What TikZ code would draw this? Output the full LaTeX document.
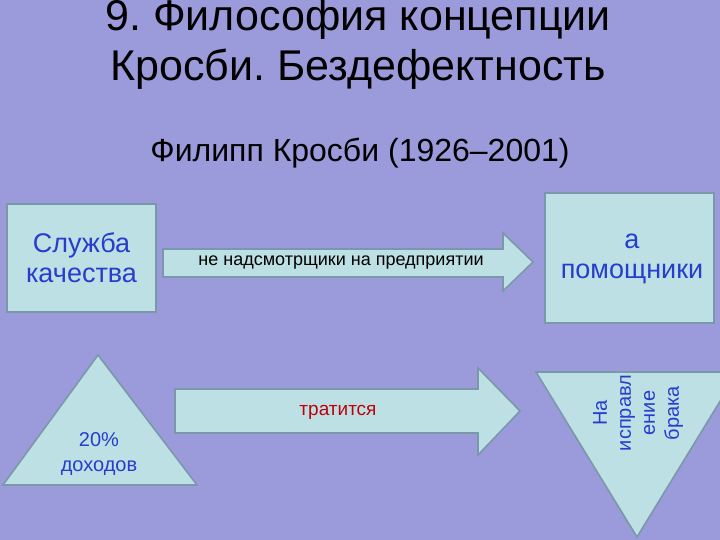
\documentclass[tikz,border=0pt]{standalone}
\usepackage{fontspec}
\setmainfont{Liberation Sans}
\frenchspacing
\definecolor{bgc}{RGB}{155,155,219}
\definecolor{fillc}{RGB}{189,224,228}
\definecolor{borderc}{RGB}{122,152,170}
\definecolor{bluetext}{RGB}{40,60,205}
\definecolor{redtext}{RGB}{190,0,10}
\tikzset{
  shapebox/.style={fill=fillc, draw=borderc, line width=1.6pt, line join=miter},
  bluelbl/.style={text=bluetext, align=center, inner sep=0pt},
}
\begin{document}
\begin{tikzpicture}[x=1pt,y=-1pt]
\useasboundingbox (0,0) rectangle (720,540);
\fill[bgc] (0,0) rectangle (720,540);
\begin{scope}
\clip (0,0) rectangle (720,540);
% title
\node[align=center, font=\fontsize{43}{50}\selectfont, inner sep=0pt] (title) at (358,44) {9. Философия концепции\\Кросби. Бездефектность};
\node[font=\fontsize{32}{38}\selectfont, inner sep=0pt] (sub) at (360,153) {Филипп Кросби (1926–2001)};
% box 1
\draw[shapebox] (7,204) rectangle (156,312);
\node[bluelbl, font=\fontsize{27}{30}\selectfont] (sluzhba) at (81.5,258) {Служба\\качества};
% arrow 1
\draw[shapebox] (163,249) -- (503,249) -- (503,233) -- (533,262) -- (503,291) -- (503,277) -- (163,277) -- cycle;
\node[font=\fontsize{18}{21}\selectfont, inner sep=0pt] (nenad) at (341,263) {не надсмотрщики на предприятии};
% box 2
\draw[shapebox] (545,193) rectangle (714,323);
\node[bluelbl, font=\fontsize{27}{30}\selectfont] (pomosh) at (632,259) {а\\помощники};
% triangle up
\draw[shapebox] (98,355) -- (197,485) -- (3,485) -- cycle;
\node[bluelbl, font=\fontsize{20}{25}\selectfont] (dohod) at (99,454) {20\%\\доходов};
% arrow 2
\draw[shapebox] (175,389) -- (478,389) -- (478,368) -- (520,411) -- (478,455) -- (478,433) -- (175,433) -- cycle;
\node[text=redtext, font=\fontsize{19}{22}\selectfont, inner sep=0pt] (trat) at (338,412) {тратится};
% inverted triangle
\draw[shapebox] (536,372) -- (738,372) -- (637,537) -- cycle;
\node[bluelbl, rotate=90, font=\fontsize{20}{24}\selectfont] (ispr) at (638,413) {На\\исправл\\ение\\брака};
\end{scope}
\end{tikzpicture}
\end{document}
